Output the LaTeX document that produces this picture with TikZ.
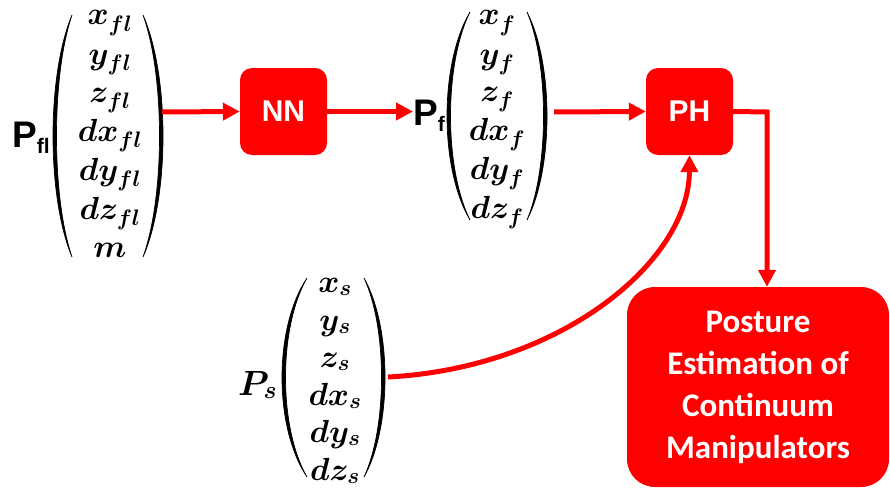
\documentclass[tikz,border=0pt]{standalone}
\usepackage{fontspec}
\newfontfamily\arialf{Liberation Sans}
\newfontfamily\calib{Carlito}
\usetikzlibrary{arrows.meta}
\DeclareFontShape{OML}{cmm}{m}{it}{<->cmmi10}{}
\DeclareFontShape{OML}{cmm}{b}{it}{<->cmmib10}{}
% #1 top/bottom x, #2 top y, #3 bottom y, #4 extreme x, #5 signed thickness
\newcommand\mypar[5]{%
  \pgfmathsetmacro\pa{(#4-0.25*#1)/0.75}%
  \pgfmathsetmacro\pb{(#4+#5-0.25*#1)/0.75}%
  \pgfmathsetmacro\ya{#2+0.25*(#3-#2)}%
  \pgfmathsetmacro\yb{#3-0.25*(#3-#2)}%
  \filldraw[line width=0.7pt] (#1,#2) .. controls (\pa,\ya) and (\pa,\yb) .. (#1,#3)
     .. controls (\pb,\yb) and (\pb,\ya) .. cycle;}
\begin{document}
\begin{tikzpicture}[x=1pt,y=-1pt,
  ent/.style={anchor=base, inner sep=0pt, font=\boldmath\fontsize{32}{38}\selectfont},
  rbox/.style={fill=red, rounded corners=12pt, minimum width=87pt, minimum height=87pt,
    text=white, font=\arialf\bfseries\fontsize{30}{30}\selectfont, inner sep=0pt},
  bigbox/.style={fill=red, rounded corners=28pt, minimum width=262pt, minimum height=200pt,
    text=white, align=center, font=\calib\bfseries\fontsize{33}{42}\selectfont, inner sep=0pt},
  lbl/.style={inner sep=0pt, font=\arialf\bfseries\fontsize{37}{37}\selectfont},
  conn/.style={draw=red, line width=5pt, -{Triangle[length=17pt,width=17pt]}},
]
\useasboundingbox (0,0) rectangle (890,495);

% ---------- P_fl vector ----------
\node[lbl, anchor=base west] (Pfl) at (12,147) {P\raisebox{-6pt}{\fontsize{21}{21}\selectfont fl}};
\mypar{72}{15}{257}{53}{3.5}
\mypar{143}{15}{257}{163}{-3.5}
\node[ent] (fl1) at (110,25)  {$x_{fl}$};
\node[ent] (fl2) at (110,64)  {$y_{fl}$};
\node[ent] (fl3) at (110,102) {$z_{fl}$};
\node[ent] (fl4) at (110,141) {$dx_{fl}$};
\node[ent] (fl5) at (110,180) {$dy_{fl}$};
\node[ent] (fl6) at (110,219) {$dz_{fl}$};
\node[ent] (fl7) at (110,257) {$m$};
\coordinate (flR) at (162,112);

% ---------- NN ----------
\node[rbox] (NN) at (283.5,111.5) {NN};

% ---------- P_f vector ----------
\node[lbl, anchor=base west] (Pf) at (413,125) {P\raisebox{-6pt}{\fontsize{21}{21}\selectfont f}};
\mypar{470}{12}{220}{447}{3.5}
\mypar{527}{12}{220}{547}{-3.5}
\node[ent] (f1) at (497,25)  {$x_{f}$};
\node[ent] (f2) at (497,64)  {$y_{f}$};
\node[ent] (f3) at (497,101) {$z_{f}$};
\node[ent] (f4) at (497,140) {$dx_{f}$};
\node[ent] (f5) at (497,179) {$dy_{f}$};
\node[ent] (f6) at (497,218) {$dz_{f}$};
\coordinate (fR) at (554,112);

% ---------- PH ----------
\node[rbox] (PH) at (689.5,111.5) {PH};

% ---------- P_s vector ----------
\node[inner sep=0pt, anchor=base west, font=\boldmath\fontsize{35}{35}\selectfont] (Ps) at (238,395) {$P_s$};
\mypar{307}{278}{477}{282}{3.5}
\mypar{364}{278}{477}{385}{-3.5}
\node[ent] (s1) at (335,292) {$x_{s}$};
\node[ent] (s2) at (335,330) {$y_{s}$};
\node[ent] (s3) at (335,367) {$z_{s}$};
\node[ent] (s4) at (335,405) {$dx_{s}$};
\node[ent] (s5) at (335,442) {$dy_{s}$};
\node[ent] (s6) at (335,480) {$dz_{s}$};
\coordinate (sR) at (388,377);

% ---------- output box ----------
\node[bigbox] (big) at (758,387) {Posture\\Estimation of\\Continuum\\Manipulators};
\coordinate (turn) at (767,112);

% ---------- connectors ----------
\draw[conn] (flR) -- (NN.west);
\draw[conn] (NN.east) -- (Pf.west |- NN.east);
\draw[conn] (fR) -- (PH.west);
\draw[conn] (PH.east) -- (turn) -- (turn |- big.north);
\draw[conn] (sR) .. controls (560,368) and (689,262) .. (PH.south);
\end{tikzpicture}
\end{document}
